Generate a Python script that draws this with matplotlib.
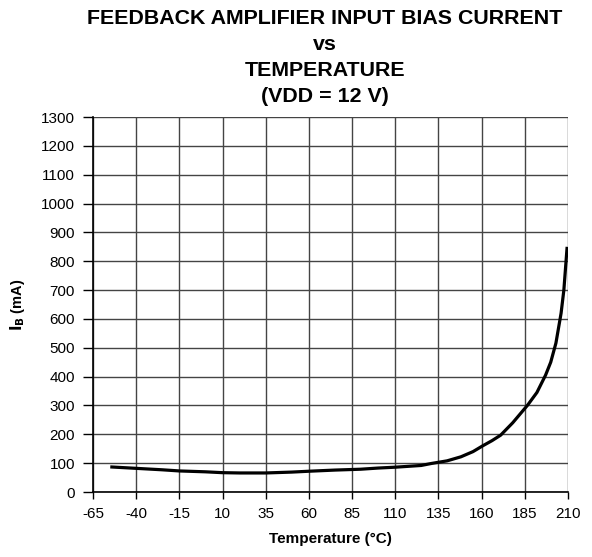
import matplotlib
matplotlib.use("Agg")
import matplotlib.pyplot as plt

temp_c = [-55, -40, -25, -15, 0, 10, 20, 35, 50, 60, 75, 90, 100, 110, 125,
          131, 140, 148, 155, 160.6, 166, 171, 178, 186.6, 192, 197, 200, 203,
          206, 207.6, 209.5]
ib_ma = [87, 82, 77, 73, 70, 67, 66, 66, 69, 72, 76, 79, 83, 86, 92,
         99, 108, 122, 140, 160, 178, 197, 240, 301, 345, 405, 450, 516,
         620, 700, 850]

x_ticks = list(range(-65, 211, 25))
y_ticks = list(range(0, 1301, 100))

plt.rcParams["font.family"] = ["Liberation Sans", "DejaVu Sans"]
plt.rcParams["axes.unicode_minus"] = False

fig = plt.figure(figsize=(5.92, 5.57), dpi=100)
ax = fig.add_axes([93 / 592, 65 / 557, 475 / 592, 375 / 557])

ax.plot(temp_c, ib_ma, color="black", linewidth=2.3, solid_capstyle="butt")

ax.set_xlim(-65, 210)
ax.set_ylim(0, 1300)
ax.set_xticks(x_ticks)
ax.set_yticks(y_ticks)
ax.grid(True, color="#444444", linewidth=1.0)
ax.set_axisbelow(True)

for side in ["top", "right"]:
    ax.spines[side].set_visible(False)
for side in ["left", "bottom"]:
    ax.spines[side].set_linewidth(1.2)

ax.tick_params(direction="out", length=5, width=1, labelsize=11, pad=6)
ax.tick_params(axis="y", length=7)

ax.set_xlabel("Temperature (°C)", fontsize=11, fontweight="bold", labelpad=8)
ax.set_ylabel(r"$\mathbf{I_B}$ (mA)", fontsize=10.5, fontweight="bold", labelpad=10)

title_lines = ["FEEDBACK AMPLIFIER INPUT BIAS CURRENT", "vs",
               "TEMPERATURE", "(VDD = 12 V)"]
title_y = [18, 44, 70, 97]
for line, ypx in zip(title_lines, title_y):
    fig.text(325 / 592, 1 - ypx / 557, line,
             ha="center", va="center", fontsize=15.4, fontweight="bold")

fig.savefig("out.png", dpi=100)
